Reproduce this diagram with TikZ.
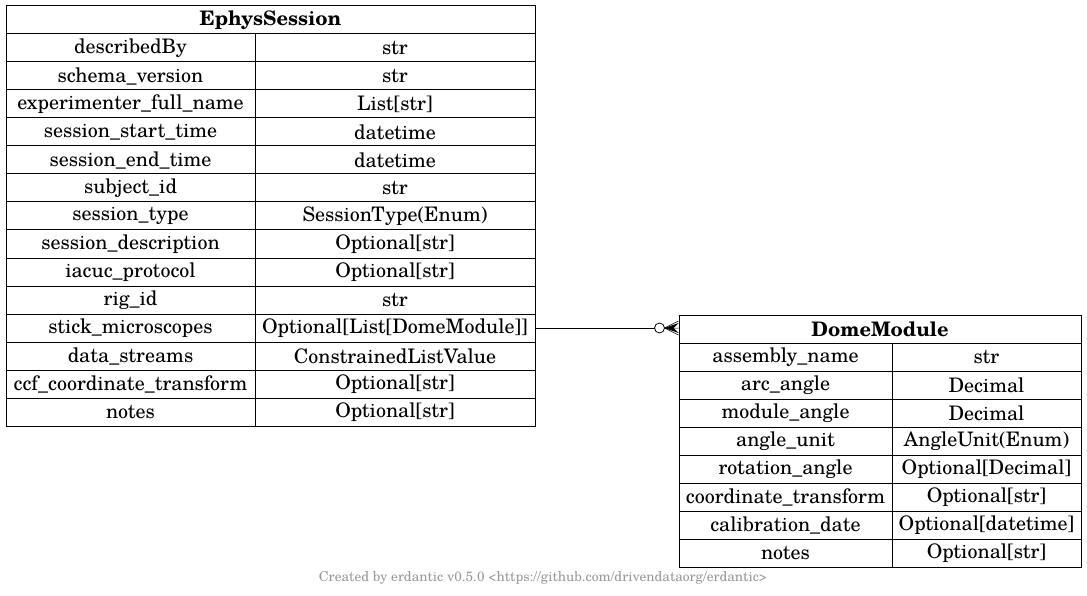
\documentclass[tikz,border=0pt]{standalone}
\usepackage{fontspec}
\setmainfont{TeX Gyre Schola}
\begin{document}
\begin{tikzpicture}[x=1pt,y=-1pt,
  cell/.style={draw=black, line width=1pt, inner sep=0pt, minimum height=28pt,
    font=\fontsize{20}{22}\selectfont, anchor=center},
  head/.style={cell, font=\fontsize{20}{22}\selectfont\bfseries},
  footer/.style={text=black!40, font=\fontsize{13.6}{15}\selectfont, inner sep=0pt}]
\useasboundingbox (0,0) rectangle (1087,596);

% EphysSession table
\node[head, minimum width=529pt] (ephys) at (270.5,20) {EphysSession};
\foreach \k/\f/\t in {1/describedBy/str, 2/schema\_version/str,
  3/experimenter\_full\_name/List[str], 4/session\_start\_time/datetime,
  5/session\_end\_time/datetime, 6/subject\_id/str,
  7/session\_type/SessionType(Enum), 8/session\_description/Optional[str],
  9/iacuc\_protocol/Optional[str], 10/rig\_id/str,
  11/stick\_microscopes/Optional[List[DomeModule]],
  12/data\_streams/ConstrainedListValue,
  13/ccf\_coordinate\_transform/Optional[str], 14/notes/Optional[str]}{
  \node[cell, minimum width=249pt] (ef\k) at (130.5,{20+28*\k}) {\f};
  \node[cell, minimum width=280pt] (et\k) at (395,{20+28*\k}) {\t};
}

% DomeModule table
\node[head, minimum width=402pt] (dome) at (880,329) {DomeModule};
\foreach \k/\f/\t in {1/assembly\_name/str, 2/arc\_angle/Decimal,
  3/module\_angle/Decimal, 4/angle\_unit/AngleUnit(Enum),
  5/rotation\_angle/Optional[Decimal], 6/coordinate\_transform/Optional[str],
  7/calibration\_date/Optional[datetime], 8/notes/Optional[str]}{
  \node[cell, minimum width=213pt] (df\k) at (785.5,{329+28*\k}) {\f};
  \node[cell, minimum width=189pt] (dt\k) at (986.5,{329+28*\k}) {\t};
}

% relation: zero-or-many
\coordinate (oc) at ([xshift=-19pt]et11.east -| dome.west);
\draw[line width=0.8pt] (et11.east) -- ([xshift=-5pt]oc);
\draw[line width=0.8pt, fill=white] (oc) circle (5pt);
\fill ([xshift=5pt]oc) -- ([xshift=19pt,yshift=-5pt]oc) -- ([xshift=14pt]oc)
  -- ([xshift=19pt,yshift=5pt]oc) -- cycle;
\draw[line width=0.5pt] ([xshift=5pt]oc) -- ([xshift=19pt,yshift=-7pt]oc)
  ([xshift=5pt]oc) -- ([xshift=19pt,yshift=7pt]oc)
  ([xshift=5pt]oc) -- ([xshift=19pt]oc);

\node[footer] (credit) at (543,578)
  {Created by erdantic v0.5.0 <https://github.com/drivendataorg/erdantic>};
\end{tikzpicture}
\end{document}
